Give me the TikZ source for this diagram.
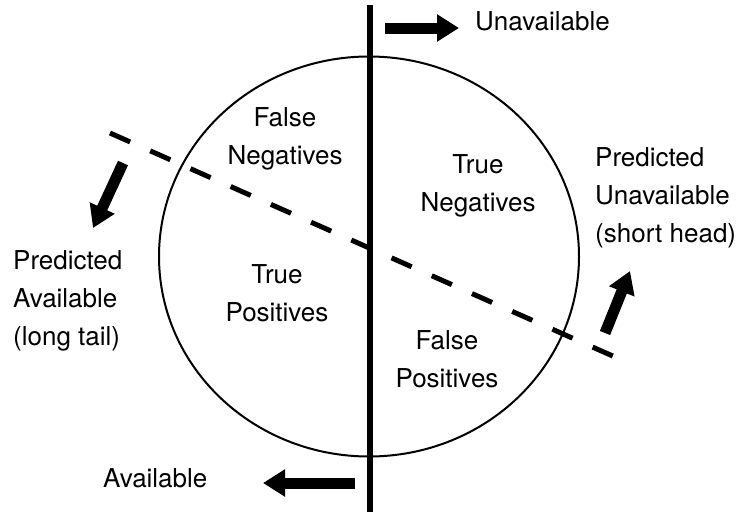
\documentclass[tikz,border=0pt]{standalone}
\usepackage{fontspec}
\setmainfont{TeX Gyre Heros}
\usetikzlibrary{arrows.meta,shapes.geometric}

\tikzset{
  words/.style={font=\fontsize{26}{38}\selectfont, inner sep=0pt},
  region/.style={words, align=center},
  side/.style={words, align=left, anchor=west},
  fat arrow/.style={line width=11pt, -{Triangle[length=22pt,width=26pt]}},
}

\begin{document}
\begin{tikzpicture}[x=1pt,y=-1pt]

    \useasboundingbox (0,0) rectangle (740,512);

    % Population and the two splits

    \node[draw, ellipse, line width=2pt, inner sep=0pt,
          minimum width=420pt, minimum height=400pt] (pop) at (369,256.5) {}; %

    \coordinate (real-top)    at (370,5) ; %
    \coordinate (real-bottom) at (370,512) ; %
    \coordinate (pred-left)   at (110,133) ; %
    \coordinate (pred-right)  at (615,357) ; %

    \draw[line width=6pt] (real-top) -- (real-bottom) ; %
    \draw[line width=5pt, dash pattern=on 22pt off 22pt] (pred-left) -- (pred-right) ; %

    % Regions

    \node[region] (fn) at (285,139) {False\\Negatives} ; %
    \node[region] (tn) at (478,186) {True\\Negatives} ; %
    \node[region] (tp) at (277,293) {True\\Positives} ; %
    \node[region] (fp) at (447,359) {False\\Positives} ; %

    % Side labels

    \node[words, anchor=base west] (unavail) at (475,30)  {Unavailable} ; %
    \node[words, anchor=base west] (avail)   at (103,487) {Available} ; %
    \node[side] (pred-avail)   at (13,301)  {Predicted\\Available\\(long tail)} ; %
    \node[side] (pred-unavail) at (595,198) {Predicted\\Unavailable\\(short head)} ; %

    % Arrows

    \coordinate (up-from)    at (385,28) ; %
    \coordinate (up-to)      at (459,28) ; %
    \coordinate (down-from)  at (355,483) ; %
    \coordinate (down-to)    at (263,483) ; %
    \coordinate (left-from)  at (123,163) ; %
    \coordinate (left-to)    at (93,228) ; %
    \coordinate (right-from) at (605,333) ; %
    \coordinate (right-to)   at (630,271) ; %

    \draw[fat arrow] (up-from)    -- (up-to) ; %
    \draw[fat arrow] (down-from)  -- (down-to) ; %
    \draw[fat arrow] (left-from)  -- (left-to) ; %
    \draw[fat arrow] (right-from) -- (right-to) ; %

\end{tikzpicture}
\end{document}
